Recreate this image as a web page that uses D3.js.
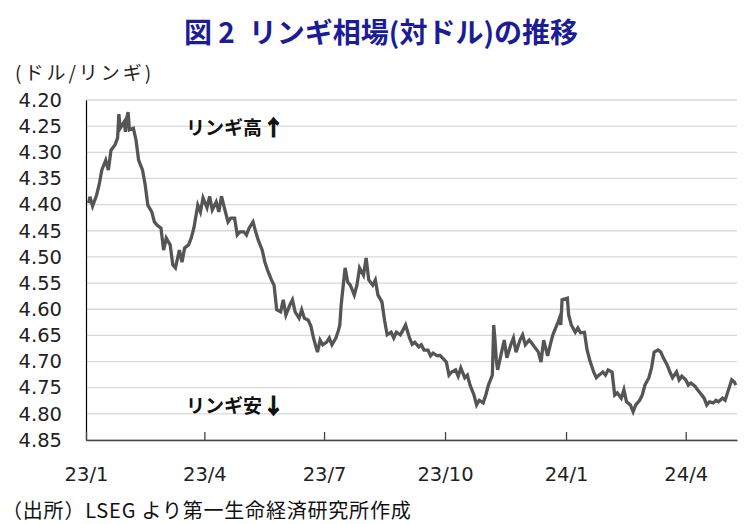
<!DOCTYPE html>
<html>
<head>
<meta charset="utf-8">
<script src="https://cdn.jsdelivr.net/npm/d3@7"></script>
<style>
  html, body { margin: 0; padding: 0; background: #ffffff; }
  svg { display: block; }
</style>
</head>
<body>
<svg id="chart" width="749" height="524"></svg>
<script>
// ---------------- data ----------------
const dates = [
"2023-01-03","2023-01-04","2023-01-06","2023-01-09","2023-01-11","2023-01-13","2023-01-16","2023-01-18","2023-01-20",
"2023-01-23","2023-01-25","2023-01-26","2023-01-27","2023-01-30","2023-01-31","2023-02-01","2023-02-02","2023-02-03",
"2023-02-06","2023-02-08","2023-02-10","2023-02-13","2023-02-15","2023-02-17","2023-02-20","2023-02-22","2023-02-24",
"2023-02-27","2023-03-01","2023-03-03","2023-03-06","2023-03-08","2023-03-10","2023-03-13","2023-03-15","2023-03-17",
"2023-03-20","2023-03-22","2023-03-24","2023-03-27","2023-03-29","2023-03-31","2023-04-03","2023-04-05","2023-04-07",
"2023-04-10","2023-04-12","2023-04-14","2023-04-17","2023-04-19","2023-04-21","2023-04-24","2023-04-26","2023-04-28",
"2023-05-01","2023-05-03","2023-05-05","2023-05-08","2023-05-10","2023-05-12","2023-05-15","2023-05-17","2023-05-19",
"2023-05-22","2023-05-24","2023-05-26","2023-05-29","2023-05-31","2023-06-02","2023-06-05","2023-06-07","2023-06-09",
"2023-06-12","2023-06-14","2023-06-16","2023-06-19","2023-06-21","2023-06-23","2023-06-26","2023-06-28","2023-06-30",
"2023-07-03","2023-07-05","2023-07-07","2023-07-10","2023-07-12","2023-07-13","2023-07-14","2023-07-17","2023-07-19",
"2023-07-21","2023-07-24","2023-07-26","2023-07-28","2023-07-31","2023-08-02","2023-08-04","2023-08-07","2023-08-09",
"2023-08-11","2023-08-14","2023-08-16","2023-08-18","2023-08-21","2023-08-23","2023-08-25","2023-08-28","2023-08-30",
"2023-09-01","2023-09-04","2023-09-06","2023-09-08","2023-09-11","2023-09-13","2023-09-15","2023-09-18","2023-09-20",
"2023-09-22","2023-09-25","2023-09-27","2023-09-29","2023-10-02","2023-10-04","2023-10-06","2023-10-09","2023-10-11",
"2023-10-13","2023-10-16","2023-10-18","2023-10-20","2023-10-23","2023-10-25","2023-10-27","2023-10-30","2023-11-01",
"2023-11-03","2023-11-06","2023-11-07","2023-11-08","2023-11-09","2023-11-10","2023-11-13","2023-11-15","2023-11-17",
"2023-11-20","2023-11-22","2023-11-24","2023-11-27","2023-11-29","2023-12-01","2023-12-04","2023-12-06","2023-12-08",
"2023-12-11","2023-12-13","2023-12-15","2023-12-18","2023-12-20","2023-12-22","2023-12-26","2023-12-27","2023-12-28",
"2023-12-29","2024-01-02","2024-01-03","2024-01-05","2024-01-08","2024-01-10","2024-01-12","2024-01-15","2024-01-17",
"2024-01-19","2024-01-22","2024-01-24","2024-01-26","2024-01-29","2024-01-31","2024-02-02","2024-02-05","2024-02-07",
"2024-02-09","2024-02-12","2024-02-14","2024-02-16","2024-02-19","2024-02-21","2024-02-23","2024-02-26","2024-02-28",
"2024-03-01","2024-03-04","2024-03-06","2024-03-08","2024-03-11","2024-03-13","2024-03-15","2024-03-18","2024-03-20",
"2024-03-22","2024-03-25","2024-03-27","2024-03-29","2024-04-01","2024-04-03","2024-04-05","2024-04-08","2024-04-10",
"2024-04-12","2024-04-15","2024-04-17","2024-04-19","2024-04-22","2024-04-24","2024-04-26","2024-04-29","2024-05-01",
"2024-05-03","2024-05-06","2024-05-08","2024-05-09"
];

const rates = [
4.397,4.385,4.403,4.382,4.362,4.334,4.315,4.334,4.296,
4.286,4.273,4.227,4.254,4.242,4.261,4.234,4.223,4.257,
4.254,4.276,4.315,4.334,4.362,4.401,4.414,4.433,4.439,
4.445,4.487,4.464,4.477,4.515,4.521,4.487,4.510,4.483,
4.477,4.464,4.445,4.401,4.414,4.387,4.406,4.384,4.410,
4.395,4.414,4.384,4.414,4.433,4.426,4.426,4.458,4.452,
4.452,4.458,4.445,4.433,4.452,4.468,4.487,4.510,4.525,
4.544,4.554,4.601,4.605,4.582,4.611,4.592,4.582,4.605,
4.617,4.601,4.617,4.621,4.632,4.655,4.682,4.659,4.668,
4.663,4.655,4.668,4.655,4.640,4.630,4.592,4.521,4.548,
4.554,4.573,4.554,4.521,4.535,4.502,4.544,4.554,4.544,
4.573,4.586,4.621,4.649,4.644,4.655,4.644,4.649,4.640,
4.630,4.655,4.667,4.663,4.672,4.668,4.678,4.678,4.689,
4.684,4.689,4.688,4.693,4.701,4.726,4.720,4.716,4.728,
4.712,4.731,4.726,4.745,4.764,4.783,4.774,4.779,4.764,
4.745,4.726,4.630,4.659,4.697,4.716,4.682,4.659,4.693,
4.668,4.655,4.682,4.659,4.649,4.668,4.659,4.665,4.672,
4.682,4.701,4.659,4.689,4.668,4.649,4.624,4.617,4.630,
4.582,4.579,4.611,4.630,4.644,4.636,4.645,4.644,4.678,
4.697,4.720,4.731,4.726,4.720,4.726,4.716,4.720,4.764,
4.760,4.770,4.754,4.777,4.783,4.796,4.783,4.774,4.764,
4.745,4.731,4.712,4.682,4.678,4.682,4.693,4.707,4.720,
4.731,4.720,4.735,4.728,4.735,4.745,4.741,4.747,4.754,
4.760,4.770,4.783,4.777,4.779,4.774,4.777,4.770,4.774,
4.758,4.735,4.739,4.745
];

const yTicks = [4.20,4.25,4.30,4.35,4.40,4.45,4.50,4.55,4.60,4.65,4.70,4.75,4.80,4.85];
const xTickDates = ["2023-01-01","2023-04-01","2023-07-01","2023-10-01","2024-01-01","2024-04-01"];
const xTickLabels = ["23/1","23/4","23/7","23/10","24/1","24/4"];
const xDomain = ["2023-01-01","2024-05-10"];

const titleText = "図 2\u2002リンギ相場(対ドル)の推移";
const unitText = "(ドル/リンギ)";
const upLabel = "リンギ高", upArrow = "↑";
const downLabel = "リンギ安", downArrow = "↓";
const sourceText = "（出所）LSEG より第一生命経済研究所作成";

// ---------------- drawing ----------------
(function () {
const parse = d3.utcParse("%Y-%m-%d");
const series = dates.map((d, i) => ({ date: parse(d), value: rates[i] }));

const svg = d3.select("#chart");
const pLeft = 86, pRight = 737, pTop = 100, pBottom = 440;

const x = d3.scaleUtc().domain(xDomain.map(parse)).range([pLeft, pRight]);
const y = d3.scaleLinear().domain([4.20, 4.85]).range([pTop, pBottom]);

const numFont = "'DejaVu Sans', sans-serif";
const jpFont = "'Noto Sans CJK JP', sans-serif";

// title
svg.append("text")
  .attr("x", 381).attr("y", 43)
  .attr("text-anchor", "middle")
  .attr("font-family", jpFont)
  .attr("font-weight", "bold")
  .attr("font-size", 28)
  .attr("fill", "#1c1c96")
  .text(titleText);

// unit label
svg.append("text")
  .attr("x", 15).attr("y", 80)
  .attr("font-family", jpFont)
  .attr("font-size", 19)
  .attr("letter-spacing", 3)
  .attr("fill", "#222")
  .text(unitText);

// gridlines
svg.append("g").selectAll("line")
  .data(yTicks)
  .join("line")
  .attr("x1", pLeft).attr("x2", pRight)
  .attr("y1", d => y(d)).attr("y2", d => y(d))
  .attr("stroke", "#d9d9d9")
  .attr("stroke-width", 1.3);

// y axis
const yAxis = svg.append("g")
  .attr("transform", `translate(${pLeft},0)`)
  .call(d3.axisLeft(y).tickValues(yTicks).tickFormat(d3.format(".2f")).tickSize(0).tickPadding(24));
yAxis.select(".domain").attr("stroke", "#000").attr("stroke-width", 1.2);
yAxis.selectAll("text")
  .attr("font-family", numFont)
  .attr("font-size", 19.5)
  .attr("fill", "#222");

// x axis
const xAxis = svg.append("g")
  .attr("transform", `translate(0,${pBottom})`)
  .call(d3.axisBottom(x)
    .tickValues(xTickDates.map(parse))
    .tickFormat((d, i) => xTickLabels[i])
    .tickSizeInner(-8).tickSizeOuter(0).tickPadding(27));
xAxis.select(".domain").attr("stroke", "#444").attr("stroke-width", 1.3);
xAxis.selectAll(".tick line").attr("stroke", "#444").attr("stroke-width", 1.3);
xAxis.selectAll("text")
  .attr("font-family", numFont)
  .attr("font-size", 19.5)
  .attr("fill", "#222");

// series line
svg.append("path")
  .datum(series)
  .attr("fill", "none")
  .attr("stroke", "#555555")
  .attr("stroke-width", 3.3)
  .attr("stroke-linejoin", "miter")
  .attr("d", d3.line().x(d => x(d.date)).y(d => y(d.value)));

// annotations
function annot(yPos, label, arrow) {
  const t = svg.append("text")
    .attr("x", 186).attr("y", yPos)
    .attr("font-family", jpFont)
    .attr("font-weight", "bold")
    .attr("font-size", 19)
    .attr("fill", "#111");
  t.append("tspan").text(label);
  t.append("tspan")
    .attr("dx", 1)
    .attr("font-size", 21)
    .attr("stroke", "#111")
    .attr("stroke-width", 1.2)
    .text(arrow);
}
annot(135, upLabel, upArrow);
annot(413, downLabel, downArrow);

// source
svg.append("text")
  .attr("x", 2).attr("y", 518)
  .attr("font-family", jpFont)
  .attr("font-size", 20)
  .attr("letter-spacing", 0.8)
  .attr("fill", "#111")
  .text(sourceText);
})();
</script>
</body>
</html>
